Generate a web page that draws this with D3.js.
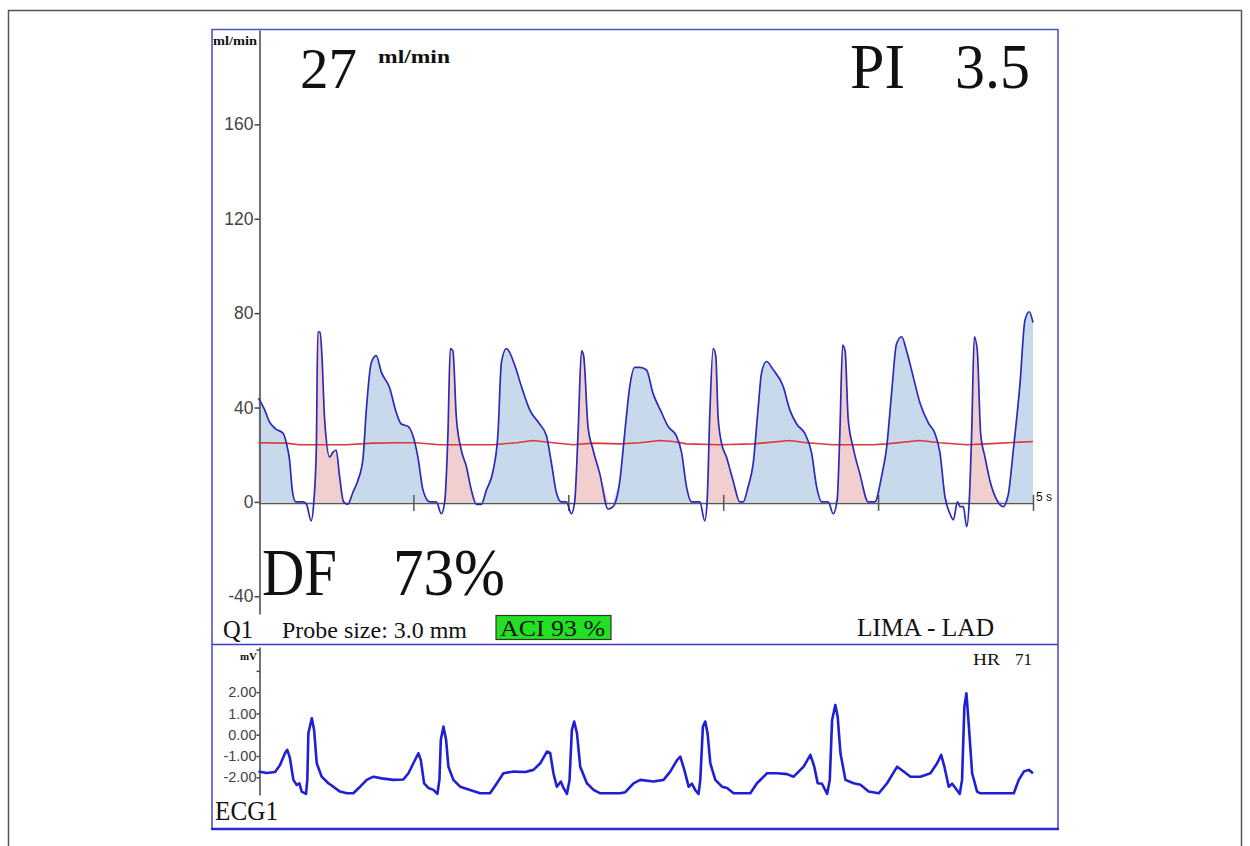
<!DOCTYPE html>
<html>
<head>
<meta charset="utf-8">
<script src="https://cdn.jsdelivr.net/npm/d3@7"></script>
<style>
  body { margin: 0; background: #fff; }
  svg text { font-family: "Liberation Serif", "Times New Roman", serif; fill: #111; }
  .tick text { font-family: "Liberation Sans", Arial, sans-serif; fill: #444; }
</style>
</head>
<body>
<script>
var width = 1250,
  height = 846;

// flow trace, time in s / flow in ml/min
var flowTime = [0, 0.04, 0.07, 0.11, 0.16, 0.18, 0.20, 0.22, 0.24, 0.29, 0.31, 0.34, 0.357, 0.373, 0.383, 0.398, 0.411, 0.426, 0.459, 0.48, 0.502, 0.523, 0.549, 0.577, 0.609, 0.641, 0.674, 0.696, 0.728, 0.76, 0.793, 0.846, 0.889, 0.922, 0.965, 0.997, 1.029, 1.062, 1.105, 1.148, 1.18, 1.202, 1.223, 1.238, 1.255, 1.277, 1.309, 1.342, 1.374, 1.406, 1.439, 1.471, 1.514, 1.546, 1.568, 1.6, 1.654, 1.697, 1.751, 1.815, 1.859, 1.891, 1.923, 1.955, 1.988, 2.02, 2.041, 2.063, 2.085, 2.099, 2.127, 2.16, 2.203, 2.257, 2.289, 2.332, 2.364, 2.397, 2.429, 2.461, 2.504, 2.547, 2.601, 2.644, 2.698, 2.731, 2.763, 2.795, 2.849, 2.881, 2.896, 2.913, 2.935, 2.952, 2.967, 2.989, 3.021, 3.064, 3.107, 3.129, 3.161, 3.193, 3.226, 3.247, 3.28, 3.323, 3.387, 3.43, 3.474, 3.527, 3.57, 3.603, 3.635, 3.678, 3.71, 3.736, 3.753, 3.771, 3.787, 3.807, 3.839, 3.882, 3.936, 3.979, 4.023, 4.055, 4.087, 4.119, 4.152, 4.184, 4.227, 4.27, 4.324, 4.367, 4.399, 4.432, 4.464, 4.486, 4.512, 4.529, 4.55, 4.572, 4.589, 4.604, 4.621, 4.64, 4.662, 4.69, 4.722, 4.765, 4.808, 4.84, 4.873, 4.916, 4.948, 4.976, 5.0];
var flowValue = [44, 39, 34, 31, 29, 25, 18, 4, 0, 0, -1, -8, 0, 22, 72, 72, 60, 36, 19, 21, 22, 11, 0, -1, 4, 9, 18, 39, 59, 62, 55, 48.5, 38, 33, 32, 28, 19, 5, 0, 0, -5, 0, 29, 65, 64, 36, 22, 15, 5, -1, -1, 5, 13, 29, 59, 65, 58, 49, 39, 33, 28, 16.5, 4, 0, 0, -5, 0, 29, 64, 62, 32, 22, 12, -3, -2, 8.6, 29, 49, 57, 57, 56, 46, 38, 32, 28, 21, 6.5, 0, 0, -8, 0, 36, 65, 62, 36, 25, 19, 9, 0, 0, 6.5, 16, 40, 54.5, 59.5, 56, 49, 39, 33, 29, 21, 6.5, 0, 0, -5, 1, 29, 66.5, 64, 35, 23, 12, 0, 0, 11, 23, 46, 67, 70, 64, 53, 42, 33.5, 29, 21, 2, -5, -7.6, 0, -2, -2, -10.5, 1, 29, 70, 64.5, 29, 19, 9, 1, -2, 3, 22, 50, 77, 80.6, 76];

// systolic intervals (pink)
var sysStart = [0.357, 1.202, 2.041, 2.896, 3.736, 4.589];
var sysEnd = [0.549, 1.406, 2.257, 3.107, 3.936, 4.765];

// mean flow line
var meanTime = [0, 0.178, 0.264, 0.565, 0.737, 0.91, 1.018, 1.169, 1.514, 1.665, 1.772, 1.902, 2.031, 2.16, 2.332, 2.461, 2.59, 2.676, 2.763, 2.978, 3.193, 3.43, 3.538, 3.71, 3.968, 4.055, 4.27, 4.399, 4.572, 4.701, 5.0];
var meanValue = [25.1, 24.9, 24.2, 24.2, 24.9, 25.1, 25.1, 24.2, 24.2, 25.1, 26.0, 25.1, 24.2, 24.9, 24.6, 25.1, 26.0, 25.6, 24.6, 24.2, 24.6, 26.0, 25.1, 24.2, 24.2, 24.6, 26.0, 25.1, 24.2, 24.6, 25.6];

// ECG trace, mV
var ecgTime = [0, 0.053, 0.107, 0.139, 0.171, 0.186, 0.203, 0.225, 0.247, 0.264, 0.279, 0.307, 0.315, 0.322, 0.344, 0.359, 0.376, 0.408, 0.451, 0.483, 0.526, 0.57, 0.612, 0.656, 0.699, 0.742, 0.796, 0.871, 0.935, 0.968, 1.0, 1.032, 1.048, 1.069, 1.097, 1.129, 1.155, 1.168, 1.177, 1.194, 1.211, 1.226, 1.258, 1.302, 1.366, 1.431, 1.495, 1.539, 1.581, 1.646, 1.722, 1.775, 1.819, 1.862, 1.883, 1.904, 1.926, 1.952, 1.969, 1.991, 2.008, 2.023, 2.038, 2.056, 2.077, 2.12, 2.163, 2.206, 2.335, 2.368, 2.421, 2.464, 2.55, 2.615, 2.658, 2.702, 2.723, 2.749, 2.777, 2.798, 2.82, 2.841, 2.852, 2.869, 2.884, 2.899, 2.917, 2.949, 2.992, 3.025, 3.067, 3.175, 3.218, 3.283, 3.348, 3.412, 3.455, 3.519, 3.563, 3.588, 3.61, 3.638, 3.671, 3.688, 3.703, 3.724, 3.739, 3.757, 3.789, 3.842, 3.886, 3.939, 4.004, 4.058, 4.123, 4.165, 4.209, 4.273, 4.338, 4.381, 4.407, 4.428, 4.456, 4.478, 4.499, 4.527, 4.542, 4.557, 4.57, 4.585, 4.607, 4.639, 4.661, 4.876, 4.908, 4.941, 4.973, 5.0];
var ecgValue = [-1.73, -1.8, -1.75, -1.42, -0.87, -0.71, -1.1, -2.12, -2.36, -2.28, -2.67, -2.78, -2.12, 0.07, 0.77, 0.22, -1.34, -1.97, -2.28, -2.44, -2.67, -2.75, -2.75, -2.44, -2.12, -1.97, -2.05, -2.12, -2.1, -1.81, -1.34, -0.87, -1.19, -2.28, -2.5, -2.59, -2.78, -2.12, -0.24, 0.38, -0.24, -1.5, -2.12, -2.44, -2.59, -2.75, -2.75, -2.28, -1.81, -1.73, -1.75, -1.65, -1.34, -0.79, -0.85, -1.81, -2.44, -2.2, -2.5, -2.78, -2.12, 0.22, 0.62, 0.07, -1.5, -2.28, -2.59, -2.75, -2.75, -2.7, -2.28, -2.12, -2.2, -2.12, -1.73, -1.19, -1.03, -1.65, -2.44, -2.3, -2.6, -2.78, -2.12, 0.38, 0.62, 0.07, -1.34, -2.12, -2.44, -2.5, -2.75, -2.75, -2.28, -1.81, -1.81, -1.85, -1.97, -1.5, -0.95, -1.5, -2.28, -2.3, -2.78, -2.12, 0.69, 1.4, 0.85, -0.87, -2.12, -2.28, -2.35, -2.67, -2.75, -2.28, -1.5, -1.73, -1.97, -1.97, -1.81, -1.34, -0.95, -1.5, -2.44, -2.3, -2.5, -2.78, -2.12, 1.32, 1.95, 0.5, -1.81, -2.67, -2.75, -2.75, -2.12, -1.73, -1.65, -1.81];

var flowTicks = [-40, 0, 40, 80, 120, 160];
var flowLabels = ["-40", "0", "40", "80", "120", "160"];
var ecgTicks = [-2, -1, 0, 1, 2, 3, 4];
var ecgLabels = ["-2.00", "-1.00", "0.00", "1.00", "2.00", "", ""];
var secTicks = [1, 2, 3, 4, 5];

var flow = flowTime.map(function (t, i) { return { t: t, v: flowValue[i] }; });
var mean = meanTime.map(function (t, i) { return { t: t, v: meanValue[i] }; });
var ecg = ecgTime.map(function (t, i) { return { t: t, v: ecgValue[i] }; });

var svg = d3.select("body").append("svg")
  .attr("width", width)
  .attr("height", height);

// outer frame
svg.append("rect")
  .attr("x", 8.5).attr("y", 10.5)
  .attr("width", 1233).attr("height", 860)
  .attr("fill", "none").attr("stroke", "#555").attr("stroke-width", 1.5);

// scales
var x = d3.scaleLinear().domain([0, 5]).range([258.5, 1033]);
var yFlow = d3.scaleLinear().domain([-47.5, 200]).range([614, 30]);
var yEcg = d3.scaleLinear().domain([-2.83, 4.12]).range([795, 647]);

// filled areas
var area = d3.area()
  .x(function (d) { return x(d.t); })
  .y0(yFlow(0))
  .y1(function (d) { return yFlow(Math.max(d.v, 0)); });

svg.append("path")
  .datum(flow)
  .attr("fill", "#c9d9ec")
  .attr("d", area);

sysStart.forEach(function (s, i) {
  var seg = flow.filter(function (d) { return d.t >= s && d.t <= sysEnd[i]; });
  svg.append("path")
    .datum(seg)
    .attr("fill", "#f2cfcf")
    .attr("d", area);
});

// y axis (flow)
var gy = svg.append("g")
  .attr("transform", "translate(259.5,0)")
  .call(d3.axisLeft(yFlow).tickValues(flowTicks).tickSize(5).tickSizeOuter(0).tickPadding(1)
    .tickFormat(function (d, i) { return flowLabels[i]; }));
gy.selectAll("path, line").attr("stroke", "#444").attr("stroke-width", 1.5);
gy.selectAll("text").attr("font-size", 17.5);

// x axis
var gx = svg.append("g")
  .attr("transform", "translate(0," + (yFlow(0) + 1) + ")")
  .call(d3.axisBottom(x).tickValues(secTicks).tickSize(8).tickSizeOuter(0).tickFormat(""));
gx.selectAll("path, line").attr("stroke", "#555").attr("stroke-width", 1.5);
gx.selectAll(".tick line").attr("y1", -8).attr("y2", 8);
svg.append("text")
  .attr("x", x(5) + 3).attr("y", yFlow(0) - 1)
  .attr("font-size", 12)
  .style("font-family", "Liberation Sans, Arial, sans-serif")
  .attr("fill", "#444")
  .text("5 s");

// mean line
svg.append("path")
  .datum(mean)
  .attr("fill", "none")
  .attr("stroke", "#d83a3a")
  .attr("stroke-width", 1.6)
  .attr("d", d3.line().x(function (d) { return x(d.t); }).y(function (d) { return yFlow(d.v); }));

// flow curve
svg.append("path")
  .datum(flow)
  .attr("fill", "none")
  .attr("stroke", "#2b2bb8")
  .attr("stroke-width", 1.7)
  .attr("d", d3.line().curve(d3.curveMonotoneX).x(function (d) { return x(d.t); }).y(function (d) { return yFlow(d.v); }));

// ECG axis
var ge = svg.append("g")
  .attr("transform", "translate(259.5,0)")
  .call(d3.axisLeft(yEcg).tickValues(ecgTicks).tickSize(3).tickSizeOuter(0).tickPadding(0)
    .tickFormat(function (d, i) { return ecgLabels[i]; }));
ge.selectAll("path, line").attr("stroke", "#444").attr("stroke-width", 1.5);
ge.selectAll("text").attr("font-size", 14.5);

// ECG trace
svg.append("path")
  .datum(ecg)
  .attr("fill", "none")
  .attr("stroke", "#1f1fd6")
  .attr("stroke-width", 2.6)
  .attr("stroke-linejoin", "round")
  .attr("d", d3.line().x(function (d) { return x(d.t); }).y(function (d) { return yEcg(d.v); }));

// panel borders
var border = svg.append("g").attr("fill", "none");
border.append("path").attr("d", "M212,829 L212,29.5 L1058,29.5 L1058,829")
  .attr("stroke", "#5252c6").attr("stroke-width", 1.6);
border.append("line").attr("x1", 212).attr("x2", 1058).attr("y1", 644.5).attr("y2", 644.5)
  .attr("stroke", "#3a3ad0").attr("stroke-width", 1.6);
border.append("line").attr("x1", 211).attr("x2", 1059).attr("y1", 829).attr("y2", 829)
  .attr("stroke", "#2a2ad6").attr("stroke-width", 2.6);

// text labels
function label(tx, ty, str, size, len, weight) {
  var t = svg.append("text")
    .attr("x", tx).attr("y", ty)
    .attr("font-size", size)
    .attr("font-weight", weight || "normal")
    .text(str);
  if (len) t.attr("textLength", len).attr("lengthAdjust", "spacingAndGlyphs");
  return t;
}

label(213, 45, "ml/min", 12, 44, "bold");
label(300, 88, "27", 56, 57);
label(378, 63, "ml/min", 19, 72, "bold");
label(850, 88, "PI", 64, 55);
label(955, 88, "3.5", 64, 75);
label(262, 595, "DF", 67, 75);
label(393, 595, "73%", 67, 112);
label(223, 638, "Q1", 25, 30);
label(282, 638, "Probe size: 3.0 mm", 24, 185);

svg.append("rect")
  .attr("x", 496).attr("y", 615.5).attr("width", 115).attr("height", 24)
  .attr("fill", "#22e022").attr("stroke", "#333").attr("stroke-width", 1.2);
label(500, 636, "ACI 93 %", 24, 105);
label(857, 636, "LIMA - LAD", 25, 137);

label(240, 660, "mV", 11, 17, "bold");
label(973, 665, "HR", 17, 27);
label(1015, 665, "71", 17, 17);
label(215, 820, "ECG1", 27, 63);
</script>
</body>
</html>
